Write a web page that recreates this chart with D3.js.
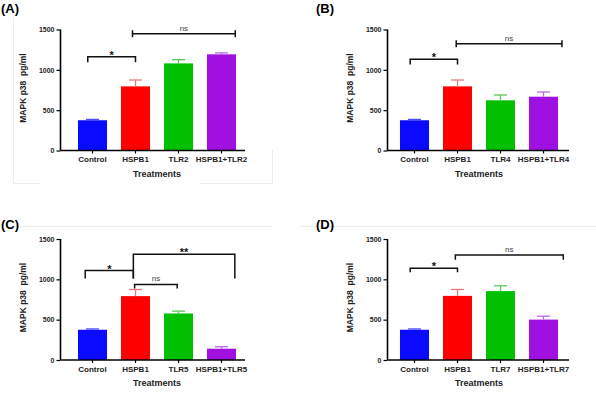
<!DOCTYPE html>
<html>
<head>
<meta charset="utf-8">
<script src="https://cdn.jsdelivr.net/npm/d3@7"></script>
<style>
  body { margin: 0; background: #fff; }
  svg { display: block; font-family: "Liberation Sans", Arial, sans-serif; }
</style>
</head>
<body>
<svg id="chart" width="596" height="393"></svg>
<script>
// data
const panelLetters = ['(A)', '(B)', '(C)', '(D)'];
const catsA = ['Control', 'HSPB1', 'TLR2', 'HSPB1+TLR2'];
const catsB = ['Control', 'HSPB1', 'TLR4', 'HSPB1+TLR4'];
const catsC = ['Control', 'HSPB1', 'TLR5', 'HSPB1+TLR5'];
const catsD = ['Control', 'HSPB1', 'TLR7', 'HSPB1+TLR7'];
const meansA = [375, 795, 1080, 1192];
const meansB = [375, 795, 622, 667];
const meansC = [375, 792, 577, 140];
const meansD = [375, 795, 854, 501];
const upperA = [385, 874, 1126, 1210];
const upperB = [385, 874, 688, 725];
const upperC = [385, 874, 606, 165];
const upperD = [385, 874, 920, 543];
const yTicks = [0, 500, 1000, 1500];
// brackets: [from, to, top, leftLeg, rightLeg, label, style]  (positions in category units)
const bracketsA = [[-0.11, 1.0, 1163, 1093, 1093, '*', 'legs'], [0.93, 3.32, 1448, 0, 0, 'ns', 'cap']];
const bracketsB = [[-0.1, 1.0, 1131, 1065, 1065, '*', 'legs'], [0.97, 3.43, 1324, 0, 0, 'ns', 'cap']];
const bracketsC = [[-0.17, 0.95, 1109, 1010, 1010, '*', 'legs'], [0.95, 3.31, 1311, 1010, 1010, '**', 'legs'],
                   [0.98, 1.97, 936, 887, 887, 'ns', 'legs']];
const bracketsD = [[-0.1, 1.0, 1137, 1087, 1087, '*', 'legs'], [0.95, 3.46, 1302, 1244, 1244, 'ns', 'legs']];

const barColors = ['#0a0aff', '#ff0000', '#00c000', '#a010e0'];
const errColors = ['#4a4aff', '#e87a7a', '#5cc85c', '#b86ae6'];

const svg = d3.select('#chart');

// faint panel frame lines from the original layout
const frame = svg.append('g').attr('stroke', '#ececec').attr('stroke-width', 1).attr('fill', 'none');
frame.append('path').attr('d', 'M13.5,17V183.5H40M200,183.5H272.5V150');
frame.append('path').attr('d', 'M20,226.5H273M300,226.5H596');

const panels = [
  {letter: panelLetters[0], cats: catsA, means: meansA, upper: upperA, br: bracketsA, ax: 60.5, axEnd: 245, band: [71, 243], y0: 150.5, y1: 29.5, lx: 1, ly: 13},
  {letter: panelLetters[1], cats: catsB, means: meansB, upper: upperB, br: bracketsB, ax: 387.5, axEnd: 569, band: [393, 565], y0: 150.5, y1: 29.5, lx: 316, ly: 13},
  {letter: panelLetters[2], cats: catsC, means: meansC, upper: upperC, br: bracketsC, ax: 60.5, axEnd: 245, band: [71, 243], y0: 360, y1: 239, lx: 1, ly: 229},
  {letter: panelLetters[3], cats: catsD, means: meansD, upper: upperD, br: bracketsD, ax: 387.5, axEnd: 569, band: [393, 565], y0: 360, y1: 239, lx: 316, ly: 229}
];

panels.forEach((p) => {
  const g = svg.append('g');
  const x = d3.scaleBand().domain(p.cats).range(p.band);
  const y = d3.scaleLinear().domain([0, 1500]).range([p.y0, p.y1]);
  const bw = x.bandwidth() * 0.675;
  const cx = (i) => p.band[0] + x.step() * (i + 0.5);

  g.append('text').attr('x', p.lx).attr('y', p.ly)
    .attr('font-size', 13).attr('font-weight', 'bold').text(p.letter);

  // bars
  g.selectAll('rect.bar').data(p.means).enter().append('rect')
    .attr('class', 'bar')
    .attr('x', (d, i) => x(p.cats[i]) + (x.bandwidth() - bw) / 2)
    .attr('y', (d) => y(d))
    .attr('width', bw)
    .attr('height', (d) => y(0) - y(d))
    .attr('fill', (d, i) => barColors[i]);

  // error bars (upper only)
  const err = g.selectAll('g.err').data(p.upper).enter().append('g')
    .attr('stroke', (d, i) => errColors[i]).attr('stroke-width', 1.3);
  err.append('line')
    .attr('x1', (d, i) => cx(i)).attr('x2', (d, i) => cx(i))
    .attr('y1', (d, i) => y(p.means[i])).attr('y2', (d) => y(d));
  err.append('line')
    .attr('x1', (d, i) => cx(i) - 6.5).attr('x2', (d, i) => cx(i) + 6.5)
    .attr('y1', (d) => y(d)).attr('y2', (d) => y(d));

  // y axis
  const yAxis = d3.axisLeft(y).tickValues(yTicks).tickFormat(d3.format('d')).tickSize(4).tickPadding(2);
  const ya = g.append('g').attr('transform', 'translate(' + p.ax + ',0)').call(yAxis);
  ya.select('.domain').attr('stroke-width', 1.6).attr('d', 'M0,' + p.y1 + 'V' + p.y0);
  ya.selectAll('.tick line').attr('stroke-width', 1.2);
  ya.selectAll('.tick text').attr('font-size', 7).attr('font-weight', 'bold')
    .attr('font-family', '"Liberation Sans", Arial, sans-serif').attr('fill', '#222');

  // x axis
  const xAxis = d3.axisBottom(x).tickSize(3).tickPadding(3);
  const xa = g.append('g').attr('transform', 'translate(0,' + p.y0 + ')').call(xAxis);
  xa.select('.domain').attr('stroke-width', 1.6).attr('d', 'M' + p.ax + ',0H' + p.axEnd);
  xa.selectAll('.tick line').attr('stroke-width', 1.2);
  xa.selectAll('.tick text').attr('font-size', 8).attr('font-weight', 'bold')
    .attr('font-family', '"Liberation Sans", Arial, sans-serif').attr('fill', '#222');

  g.append('text')
    .attr('x', (p.band[0] + p.band[1]) / 2).attr('y', p.y0 + 26)
    .attr('text-anchor', 'middle').attr('font-size', 9).attr('font-weight', 'bold').attr('fill', '#222')
    .text('Treatments');

  g.append('text')
    .attr('transform', 'translate(' + (p.ax - 35) + ',' + ((p.y0 + p.y1) / 2 - 2) + ') rotate(-90)')
    .attr('text-anchor', 'middle').attr('font-size', 8.5).attr('font-weight', 'bold').attr('fill', '#222')
    .attr('xml:space', 'preserve')
    .text('MAPK p38  pg/ml');

  // significance brackets
  const pos = (t) => cx(0) + t * x.step();
  p.br.forEach((b) => {
    const [f, t, top, ll, rl, label, style] = b;
    const x1 = pos(f), x2 = pos(t), yt = y(top);
    let d;
    if (style === 'cap') {
      d = 'M' + x1 + ',' + (yt - 3.5) + 'V' + (yt + 3.5) + 'M' + x1 + ',' + yt + 'H' + x2 +
          'M' + x2 + ',' + (yt - 3.5) + 'V' + (yt + 3.5);
    } else {
      d = 'M' + x1 + ',' + y(ll) + 'V' + yt + 'H' + x2 + 'V' + y(rl);
    }
    g.append('path').attr('d', d).attr('fill', 'none').attr('stroke', '#111').attr('stroke-width', 1.5);
    const isNs = label === 'ns';
    g.append('text')
      .attr('x', (x1 + x2) / 2).attr('y', isNs ? yt - 3 : yt + 2)
      .attr('text-anchor', 'middle')
      .attr('font-size', isNs ? 8 : 11).attr('font-weight', isNs ? 'normal' : 'bold')
      .attr('fill', isNs ? '#444' : '#111')
      .text(label);
  });
});
</script>
</body>
</html>
